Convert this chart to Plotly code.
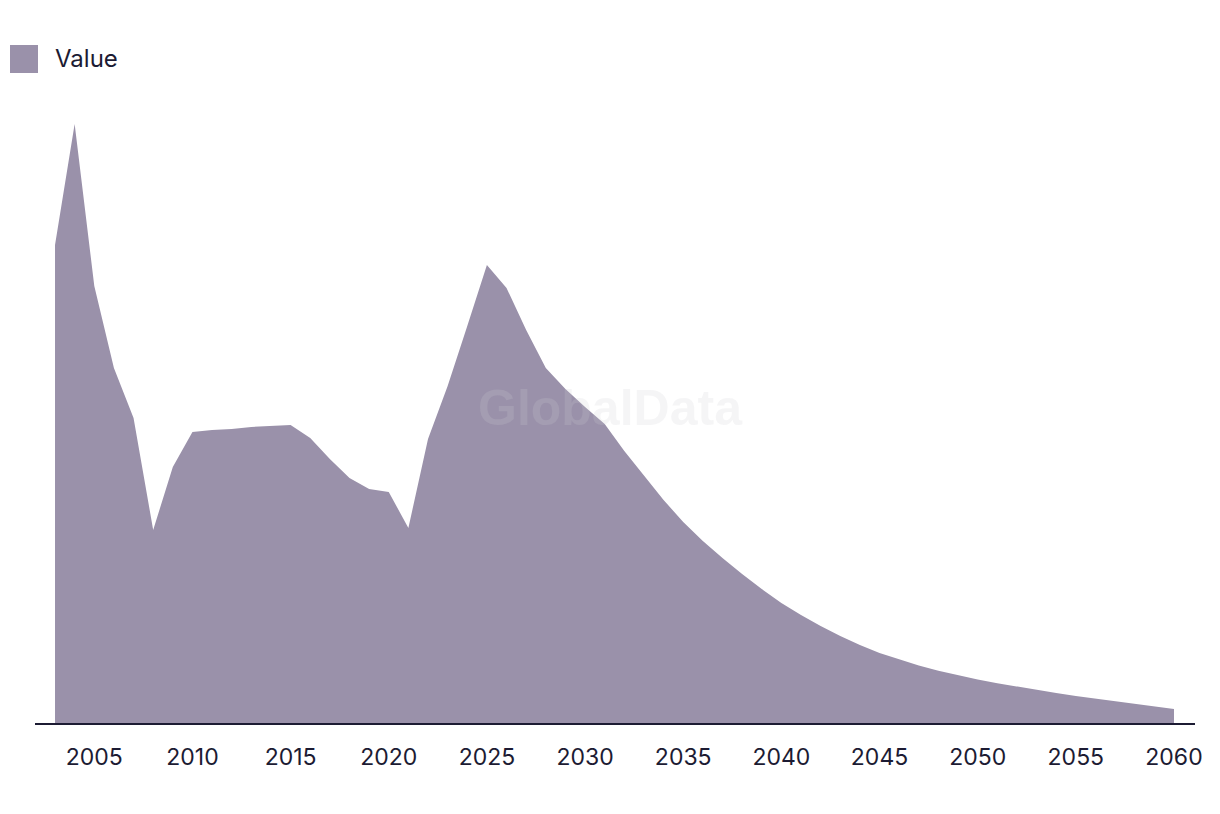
import plotly.graph_objects as go

years = list(range(2003, 2061))
values = [
    478, 599, 437, 355, 305, 193, 256, 291, 293, 294,        # 2003-2012
    296, 297, 298, 285, 264, 245, 234, 231, 195, 284,        # 2013-2022
    337, 397, 458, 435, 393, 355, 334, 316, 299, 272,        # 2023-2032
    247, 223, 201, 182, 165, 149, 134, 120, 108, 97,         # 2033-2042
    87, 78, 70, 63.5, 57.5, 52.3, 47.7, 43.6, 39.8, 36.3,    # 2043-2052
    33.0, 29.9, 27.0, 24.4, 21.8, 19.2, 16.6, 14             # 2053-2060
]
tick_vals = list(range(2005, 2061, 5))
tick_text = [str(v) for v in tick_vals]
series_name = "Value"

FILL = "#9a91aa"
INK = "#1c1b33"
FONT = "Inter, Roboto, 'Liberation Sans', sans-serif"

fig = go.Figure()
fig.add_trace(go.Scatter(
    x=years, y=values, name=series_name, mode="lines",
    line=dict(width=0, color=FILL), fill="tozeroy", fillcolor=FILL,
    showlegend=False, hoverinfo="x+y",
))

T, B = 100, 91
plot_h = 814 - T - B

fig.update_layout(
    width=1220, height=814,
    margin=dict(l=35, r=25, t=T, b=B),
    paper_bgcolor="white", plot_bgcolor="white",
    font=dict(family=FONT, color=INK, size=23),
    xaxis=dict(
        range=[2001.98, 2061.07], tickvals=tick_vals, ticktext=tick_text,
        showgrid=False, zeroline=False, showline=True, linecolor=INK, linewidth=2,
        ticks="", ticklabelstandoff=12, tickfont=dict(size=23, color=INK, family=FONT),
    ),
    yaxis=dict(range=[0, plot_h], visible=False, showgrid=False, zeroline=False),
    showlegend=False,
)

# manual legend (square swatch + label)
def px_x(p):
    return (p - 35) / 1160.0

def px_y(p):
    return (814 - B - p) / plot_h

fig.add_shape(type="rect", xref="paper", yref="paper",
              x0=px_x(10), x1=px_x(38), y0=px_y(73), y1=px_y(45),
              fillcolor=FILL, line=dict(width=0))
fig.add_annotation(xref="paper", yref="paper", x=px_x(53), y=px_y(58),
                   xanchor="left", yanchor="middle", showarrow=False,
                   text=series_name, font=dict(size=24, color=INK, family=FONT))

# watermark
fig.add_annotation(xref="paper", yref="paper", x=px_x(610), y=px_y(408),
                   xanchor="center", yanchor="middle", showarrow=False,
                   text="<b>GlobalData</b>",
                   font=dict(size=50, color="rgba(205,205,210,0.2)",
                             family="'Liberation Sans', Arial, sans-serif"))

fig.write_html("out.html")
